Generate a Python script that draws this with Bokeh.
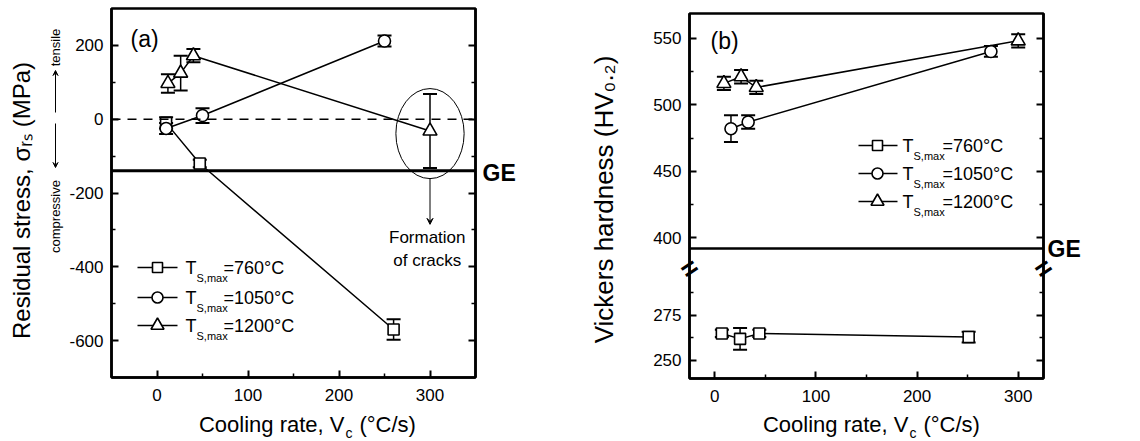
import numpy as np
from bokeh.plotting import figure
from bokeh.models import (ColumnDataSource, LinearAxis, FixedTicker, Span, Label,
                          Whisker, TeeHead, Arrow, VeeHead, Range1d, GridBox,
                          CustomLabelingPolicy)
from bokeh.core.properties import value
from bokeh.embed import file_html
from bokeh.resources import INLINE

# ---------------- data: (a) residual stress vs cooling rate ----------------
a760_x = [10, 47, 260]
a760_y = [-10, -120, -570]
a760_err = [15, 10, 28]
a1050_x = [10, 50, 250]
a1050_y = [-25, 10, 212]
a1050_err = [15, 20, 15]
a1200_x = [12, 26, 40, 300]
a1200_y = [97, 125, 172, -32]
a1200_err = [25, 47, 18, 100]
ge_stress = -140

# ---------------- data: (b) Vickers hardness vs cooling rate ----------------
b760_x = [7, 25, 44, 251]
b760_y = [265, 262, 265, 263]
b760_err = [2, 6, 2, 3]
b1050_x = [16, 33, 273]
b1050_y = [482, 487, 540]
b1050_err = [10, 5, 4]
b1200_x = [9, 26, 41, 300]
b1200_y = [516, 521, 513, 548]
b1200_err = [5, 5, 5, 5]
ge_hardness = 392

legend_temps = ["760", "1050", "1200"]
x_ticks = [0, 100, 200, 300]
x_minor = [50, 150, 250]
a_y_ticks = [-600, -400, -200, 0, 200]
a_y_minor = [-500, -300, -100, 100]
b_up_ticks = [400, 450, 500, 550]
b_up_minor = [425, 475, 525]
b_low_ticks = [250, 275]
b_low_minor = [262.5, 287.5]

FONT = "Liberation Sans"
MARKERS = ["square", "circle", "triangle"]
MSIZE = [11, 12, 14]
W, H = 1140, 441


def base_fig(w, h, xr, yr, bl, br, bt, bb, **kw):
    p = figure(width=w, height=h, x_range=xr, y_range=yr, output_backend="svg",
               toolbar_location=None, x_axis_location=None, y_axis_location=None,
               min_border_left=bl, min_border_right=br, min_border_top=bt, min_border_bottom=bb, **kw)
    p.frame_align = False
    p.outline_line_color = "black"
    p.outline_line_width = 2.5
    p.outline_line_alpha = 1.0
    p.grid.visible = False
    p.background_fill_color = "white"
    p.border_fill_color = "white"
    return p


HIDE = CustomLabelingPolicy(code="const all = [...indices]; for (const i of all) { indices.unset(i) }; return indices")


def add_axis(p, side, ticks, minor, labels=True, overrides=None, standoff=8):
    ax = LinearAxis(ticker=FixedTicker(ticks=ticks, minor_ticks=minor))
    ax.axis_line_width = 2.5
    ax.axis_line_color = "black"
    ax.major_tick_in = 7
    ax.major_tick_out = 0
    ax.minor_tick_in = 4
    ax.minor_tick_out = 0
    ax.major_tick_line_width = 2
    ax.minor_tick_line_width = 1.5
    ax.major_label_text_font = FONT
    ax.major_label_text_color = "black"
    if labels:
        ax.major_label_text_font_size = "17px"
        ax.major_label_standoff = standoff
        if overrides:
            ax.major_label_overrides = overrides
    else:
        ax.major_label_text_font_size = "1px"
        ax.major_label_standoff = 0
        ax.major_label_policy = HIDE
    p.add_layout(ax, side)


def errorbars(p, x, y, e, **kw):
    src = ColumnDataSource(dict(x=x, lo=[a - b for a, b in zip(y, e)], hi=[a + b for a, b in zip(y, e)]))
    w = Whisker(source=src, base="x", upper="hi", lower="lo", dimension="height",
                line_width=1.5, line_color="black",
                upper_head=TeeHead(size=14, line_width=2, line_color="black"),
                lower_head=TeeHead(size=14, line_width=2, line_color="black"), **kw)
    p.add_layout(w)


def series(p, x, y, e, k, **kw):
    p.line(x, y, line_width=1.5, line_color="black", **kw)
    errorbars(p, x, y, e, **kw)
    p.scatter(x, y, marker=MARKERS[k], size=MSIZE[k], fill_color="white",
              line_color="black", line_width=1.6, **kw)


# ======================= panel (a) =======================
AX = (-50, 350)
AY = (-700, 300)
pa = base_fig(560, H, Range1d(*AX), Range1d(*AY), 111, 85, 8, 64)

add_axis(pa, "left", a_y_ticks, a_y_minor, overrides={v: str(v) for v in a_y_ticks})
add_axis(pa, "right", a_y_ticks, a_y_minor, labels=False)
add_axis(pa, "below", x_ticks, x_minor, standoff=11)

pa.add_layout(Span(location=0, dimension="width", line_dash="9 7", line_width=1.5, line_color="black"))
pa.add_layout(Span(location=ge_stress, dimension="width", line_width=3, line_color="black"))

series(pa, a760_x, a760_y, a760_err, 0)
series(pa, a1050_x, a1050_y, a1050_err, 1)
series(pa, a1200_x, a1200_y, a1200_err, 2)

# crack annotation around the last 1200 °C point
cx, cy = a1200_x[-1], a1200_y[-1] - 7
pa.ellipse(x=[cx], y=[cy], width=75, height=244, fill_color=None, line_color="black", line_width=1)
pa.add_layout(Arrow(x_start=cx, y_start=cy - 122, x_end=cx, y_end=-285,
                    line_width=1, line_color="black",
                    end=VeeHead(size=6, line_width=1, line_color="black", fill_color="black")))
for t, yy in (("Formation", -320), ("of cracks", -383)):
    pa.add_layout(Label(x=cx - 3, y=yy, text=t, text_font=FONT, text_font_size="17px",
                        text_align="center", text_baseline="middle", text_color="black"))

# ======================= panel (b) (broken y axis) =======================
BX = (-25, 325)
BUY = (294.4, 568.5)           # upper (main) scale
BLY = (240.0, 442.6)           # lower scale, same frame
pb = base_fig(580, H, Range1d(*BX), Range1d(*BUY), 129, 97, 13, 63,
              extra_y_ranges={"low": Range1d(*BLY)})


def low_to_main(v):
    return round(BUY[0] + (v - BLY[0]) * (BUY[1] - BUY[0]) / (BLY[1] - BLY[0]), 3)


b_ticks = [low_to_main(v) for v in b_low_ticks] + b_up_ticks
b_minor = [low_to_main(v) for v in b_low_minor] + b_up_minor
b_over = {low_to_main(v): str(v) for v in b_low_ticks}
add_axis(pb, "left", b_ticks, b_minor, overrides=b_over)
add_axis(pb, "right", b_ticks, b_minor, labels=False)
add_axis(pb, "below", x_ticks, x_minor, standoff=11)

pb.add_layout(Span(location=ge_hardness, dimension="width", line_width=2.5, line_color="black"))

series(pb, b760_x, b760_y, b760_err, 0, y_range_name="low")
series(pb, b1050_x, b1050_y, b1050_err, 1)
series(pb, b1200_x, b1200_y, b1200_err, 2)

# ======================= overlay for free text (pixel coordinates) =======================
ov = figure(width=W, height=H, x_range=Range1d(0, W), y_range=Range1d(0, H), output_backend="svg",
            toolbar_location=None, x_axis_location=None, y_axis_location=None, min_border=0,
            min_border_left=0, min_border_right=0, min_border_top=0, min_border_bottom=0)
ov.frame_align = False
ov.grid.visible = False
ov.outline_line_color = None
ov.background_fill_alpha = 0
ov.border_fill_alpha = 0


def txt(px, py, s, size, angle=0.0, align="left", baseline="middle", bold=False):
    ov.text(x=[px], y=[H - py], text=[s], text_font=value(FONT), text_font_size=value(f"{size}px"),
            angle=angle, text_align=align, text_baseline=baseline, text_color="black",
            text_font_style="bold" if bold else "normal")


def arrow(px, py0, py1):
    ov.add_layout(Arrow(x_start=px, y_start=H - py0, x_end=px, y_end=H - py1, line_width=1,
                        line_color="black", end=VeeHead(size=5, line_width=1, fill_color="black")))


# panel tags and GE marks
txt(130, 38, "(a)", 23)
txt(710, 40, "(b)", 23)
txt(482, 172, "GE", 23, bold=True)
txt(1047, 248, "GE", 23, bold=True)

# y-axis titles
txt(21, 200, "Residual stress, σᵣₛ (MPa)", 24, angle=np.pi / 2, align="center")
txt(55, 216, "compressive", 13, angle=np.pi / 2, align="center")
txt(55, 47, "tensile", 13, angle=np.pi / 2, align="center")
arrow(55, 123, 167)
arrow(55, 112, 70)
txt(603, 199, "Vickers hardness (HV₀.₂)", 26, angle=np.pi / 2, align="center")

# x-axis titles with subscript c
for x0 in (344, 908):
    txt(x0, 424, "Cooling rate, V", 22, align="right", baseline="alphabetic")
    txt(x0 + 1, 432, "c", 14, baseline="alphabetic")
    txt(x0 + 15, 424, "(°C/s)", 22, baseline="alphabetic")

# axis-break marks
for bx in (689, 1043):
    txt(bx, 268, "=", 28, angle=0.6, align="center", bold=True)


# legends
def legend(rows_py, x0, x1, xm, xt, xs, xe):
    for k, (py, t) in enumerate(zip(rows_py, legend_temps)):
        yy = H - py
        ov.line([x0, x1], [yy, yy], line_width=1.5, line_color="black")
        ov.scatter([xm], [yy], marker=MARKERS[k], size=MSIZE[k] - 1, fill_color="white",
                   line_color="black", line_width=1.6)
        txt(xt, py, "T", 18)
        txt(xs, py + 10, "S,max", 11)
        txt(xe, py, f"={t}°C", 18)


legend([267, 297, 325], 137, 177, 157, 185, 196, 223)
legend([145, 173, 201], 858, 897, 877, 902, 913, 942)

grid = GridBox(children=[(pa, 0, 0), (pb, 0, 1), (ov, 0, 0, 1, 2)])
open("out.html", "w").write(file_html(grid, INLINE))
